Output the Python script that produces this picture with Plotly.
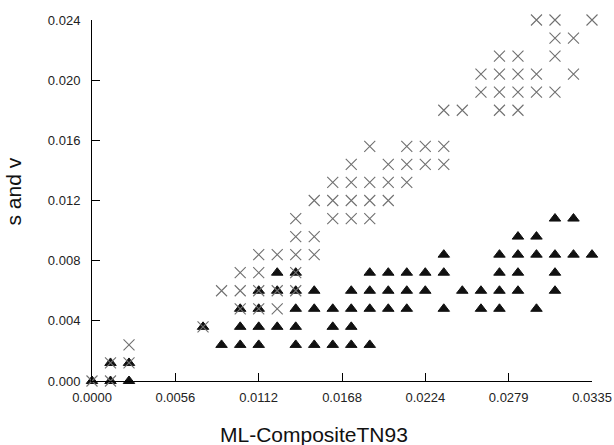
import plotly.graph_objects as go

# ---- data ----
s_x = [
    0.0, 0.00124,
    0.00124, 0.00248,
    0.00248,
    0.00744,
    0.00993, 0.01117, 0.01241,
    0.00868, 0.00993, 0.01117, 0.01241, 0.01365,
    0.00993, 0.01117, 0.01365,
    0.01117, 0.01241, 0.01365, 0.01489,
    0.01365, 0.01489,
    0.01365, 0.01613, 0.01737, 0.01861,
    0.01489, 0.01613, 0.01737, 0.01861, 0.01985,
    0.01613, 0.01737, 0.01861, 0.01985, 0.02109,
    0.01737, 0.01985, 0.02109, 0.02233, 0.02357,
    0.01861, 0.02109, 0.02233, 0.02357,
    0.02357, 0.02481, 0.0273, 0.02854,
    0.02606, 0.0273, 0.02854, 0.02978, 0.03102,
    0.02606, 0.0273, 0.02854, 0.02978, 0.03226,
    0.0273, 0.02854, 0.03102,
    0.03102, 0.03226,
    0.02978, 0.03102, 0.0335,
]
s_y = [
    0.0, 0.0,
    0.0012, 0.0012,
    0.0024,
    0.0036,
    0.0048, 0.0048, 0.0048,
    0.006, 0.006, 0.006, 0.006, 0.006,
    0.0072, 0.0072, 0.0072,
    0.0084, 0.0084, 0.0084, 0.0084,
    0.0096, 0.0096,
    0.0108, 0.0108, 0.0108, 0.0108,
    0.012, 0.012, 0.012, 0.012, 0.012,
    0.0132, 0.0132, 0.0132, 0.0132, 0.0132,
    0.0144, 0.0144, 0.0144, 0.0144, 0.0144,
    0.0156, 0.0156, 0.0156, 0.0156,
    0.018, 0.018, 0.018, 0.018,
    0.0192, 0.0192, 0.0192, 0.0192, 0.0192,
    0.0204, 0.0204, 0.0204, 0.0204, 0.0204,
    0.0216, 0.0216, 0.0216,
    0.0228, 0.0228,
    0.024, 0.024, 0.024,
]

v_x = [
    0.0, 0.00124, 0.00248,
    0.00124, 0.00248,
    0.00868, 0.00993, 0.01117, 0.01365, 0.01489, 0.01613, 0.01737, 0.01861,
    0.00744, 0.00993, 0.01117, 0.01241, 0.01365, 0.01613, 0.01737,
    0.00993, 0.01117, 0.01365, 0.01489, 0.01613, 0.01737, 0.01861, 0.01985,
    0.02109, 0.02357, 0.02606, 0.0273, 0.02978,
    0.01117, 0.01241, 0.01365, 0.01489, 0.01737, 0.01861, 0.01985, 0.02109,
    0.02233, 0.02481, 0.02606, 0.0273, 0.02854, 0.03102,
    0.01241, 0.01365, 0.01861, 0.01985, 0.02109, 0.02233, 0.02357, 0.0273,
    0.02854, 0.03102,
    0.02357, 0.0273, 0.02854, 0.02978, 0.03102, 0.03226, 0.0335,
    0.02854, 0.02978,
    0.03102, 0.03226,
]
v_y = [
    0.0, 0.0, 0.0,
    0.0012, 0.0012,
    0.0024, 0.0024, 0.0024, 0.0024, 0.0024, 0.0024, 0.0024, 0.0024,
    0.0036, 0.0036, 0.0036, 0.0036, 0.0036, 0.0036, 0.0036,
    0.0048, 0.0048, 0.0048, 0.0048, 0.0048, 0.0048, 0.0048, 0.0048,
    0.0048, 0.0048, 0.0048, 0.0048, 0.0048,
    0.006, 0.006, 0.006, 0.006, 0.006, 0.006, 0.006, 0.006,
    0.006, 0.006, 0.006, 0.006, 0.006, 0.006,
    0.0072, 0.0072, 0.0072, 0.0072, 0.0072, 0.0072, 0.0072, 0.0072,
    0.0072, 0.0072,
    0.0084, 0.0084, 0.0084, 0.0084, 0.0084, 0.0084, 0.0084,
    0.0096, 0.0096,
    0.0108, 0.0108,
]

x_tick_vals = [0.0, 0.005583, 0.011167, 0.01675, 0.022333, 0.027917, 0.0335]
x_tick_text = ["0.0000", "0.0056", "0.0112", "0.0168", "0.0224", "0.0279", "0.0335"]
y_tick_vals = [0.0, 0.004, 0.008, 0.012, 0.016, 0.020, 0.024]
y_tick_text = ["0.000", "0.004", "0.008", "0.012", "0.016", "0.020", "0.024"]

x_title = "ML-CompositeTN93"
y_title = "s and v"

FONT = "Arial, Liberation Sans, sans-serif"

fig = go.Figure()
fig.add_trace(go.Scatter(
    x=v_x, y=v_y, mode="markers", name="v", cliponaxis=False,
    marker=dict(symbol="triangle-up", size=10, color="#111111",
                line=dict(color="#111111", width=1)),
))
fig.add_trace(go.Scatter(
    x=s_x, y=s_y, mode="markers", name="s", cliponaxis=False,
    marker=dict(symbol="x-thin", size=11, color="#707070",
                line=dict(color="#707070", width=1.1)),
))

axis_common = dict(
    showgrid=False, zeroline=False, showline=True, linecolor="black",
    linewidth=1, ticks="inside", ticklen=8, tickwidth=1, tickcolor="black",
    automargin=False,
    tickfont=dict(family=FONT, size=13, color="#222222"),
)
fig.update_xaxes(range=[0, 0.0335], tickvals=x_tick_vals, ticktext=x_tick_text,
                 ticklabelstandoff=4, ticklabeloverflow="allow", **axis_common)
fig.update_yaxes(range=[0, 0.024], tickvals=y_tick_vals, ticktext=y_tick_text,
                 ticklabelstandoff=8, **axis_common)

fig.add_annotation(text=x_title, xref="paper", yref="paper", x=0.444, y=-0.147,
                   xanchor="center", yanchor="middle", showarrow=False,
                   font=dict(family=FONT, size=21, color="#111111"))
fig.add_annotation(text=y_title, xref="paper", yref="paper", x=-0.158, y=0.525,
                   xanchor="center", yanchor="middle", showarrow=False, textangle=-90,
                   font=dict(family=FONT, size=21, color="#111111"))

fig.update_layout(
    width=614, height=445,
    margin=dict(l=92, r=22, t=20, b=64),
    paper_bgcolor="white", plot_bgcolor="white",
    showlegend=False,
)

# remove the default page margin so the 614x445 figure fills the window exactly
fig.write_html(
    "out.html",
    config={"displayModeBar": False},
    post_script="document.body.style.margin='0';document.body.style.overflow='hidden';",
)
